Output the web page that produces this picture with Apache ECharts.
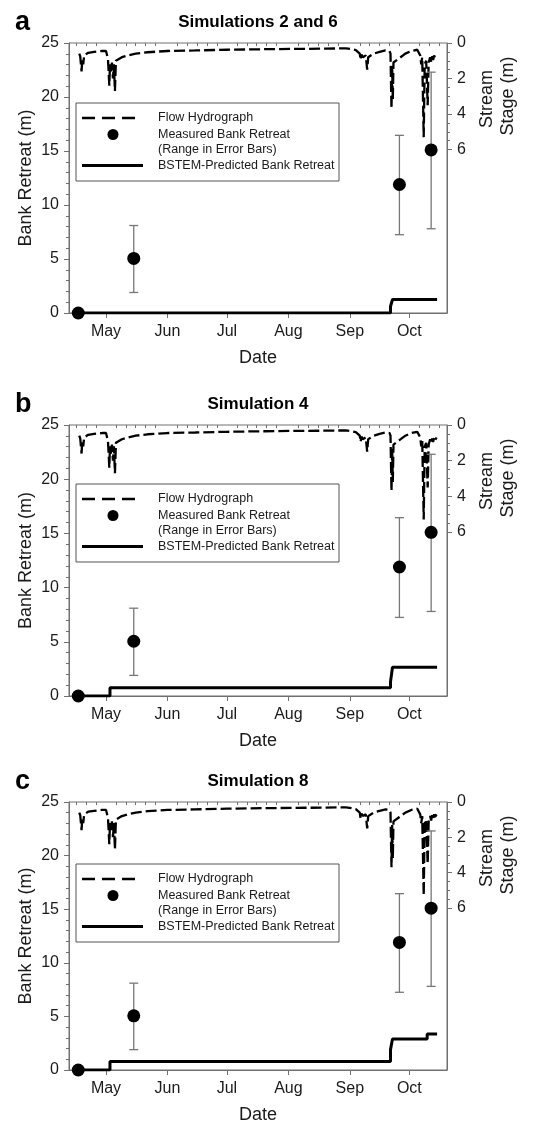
<!DOCTYPE html>
<html>
<head>
<meta charset="utf-8">
<script src="https://cdn.jsdelivr.net/npm/echarts@6/dist/echarts.min.js"></script>
<style>html,body{margin:0;padding:0;background:#fff;}#c{width:538px;height:1123px;}</style>
</head>
<body>
<div id="c"></div>
<script>
// ---------- data ----------
const panelLetters = ['a', 'b', 'c'];
const panelTitles = ['Simulations 2 and 6', 'Simulation 4', 'Simulation 8'];
const monthLabels = ['May', 'Jun', 'Jul', 'Aug', 'Sep', 'Oct'];
const monthStarts = ['05-01', '06-01', '07-01', '08-01', '09-01', '10-01'];
const leftTicks = [0, 5, 10, 15, 20, 25];
const stageTickLabels = [0, 2, 4, 6];

// flow hydrograph: stream stage (m), same in all panels
const hydroDates = ['04-17 12','04-18','04-18 16','04-19','04-19 12','04-20','04-22','04-25','04-29','05-01',
  '05-02','05-02 16','05-03','05-03 12','05-04','05-04 12','05-05','05-05 12','05-06','05-07',
  '05-09','05-12','05-16','05-22','06-01','06-15','07-01','07-20','08-05','08-20','08-30',
  '09-02','09-04','09-05','09-06','09-06 10','09-06 20','09-07 12','09-08','09-09','09-09 18','09-10 06',
  '09-11','09-13','09-16','09-19','09-21','09-21 12','09-22','09-22 08','09-22 16','09-23','09-24',
  '09-26','09-29','10-02','10-05','10-06','10-06 12','10-07','10-07 12','10-08 06','10-08 18',
  '10-09 12','10-10 06','10-10 18','10-11 12','10-12','10-12 12','10-13','10-13 12','10-14','10-14 18'];
const hydroStage = [0.6,0.75,1.6,0.95,1.2,0.7,0.55,0.5,0.45,0.45,
  0.9,2.4,1.2,1.6,1.1,2.0,1.2,2.7,1.0,0.95,
  0.8,0.7,0.6,0.52,0.45,0.42,0.38,0.35,0.33,0.32,0.3,
  0.35,0.4,0.5,0.6,0.95,0.65,0.8,0.7,0.7,1.5,0.8,
  0.75,0.6,0.5,0.42,0.45,0.6,3.7,1.3,3.2,1.1,1.0,
  0.85,0.6,0.45,0.38,0.45,0.7,1.2,0.8,5.3,1.2,
  1.0,3.5,1.1,0.8,1.05,0.75,0.95,0.7,0.85,0.7];

// measured bank retreat with range
const measDates = ['04-17', '05-15', '09-26', '10-12'];
const measValue = [0, 5.05, 11.9, 15.1];
const measLow   = [0, 1.9, 7.25, 7.8];
const measHigh  = [0, 8.1, 16.45, 22.3];

// BSTEM-predicted bank retreat (step changes)
const predDatesA = ['04-17', '09-21 12', '09-22 12', '10-15'];
const predValsA  = [0, 0.6, 1.25, 1.25];
const predDatesB = ['04-17', '05-03', '09-21 12', '09-22 12', '10-15'];
const predValsB  = [0, 0.75, 1.3, 2.65, 2.65];
const predDatesC = ['04-17', '05-03', '09-21 12', '09-22 12', '10-10', '10-15'];
const predValsC  = [0, 0.8, 1.9, 2.9, 3.35, 3.35];

// ---------- helpers ----------
function doy(s) {
  const [md, hh] = s.split(' ');
  const [m, d] = md.split('-').map(Number);
  return (Date.UTC(2009, m - 1, d, hh ? Number(hh) : 0) - Date.UTC(2009, 0, 0)) / 864e5;
}
const xMin = doy('04-12 08');
const xMax = doy('10-20');
const monthVals = monthStarts.map(doy);
const minorX = [];
['04','05','06','07','08','09','10'].forEach(m => {
  [6, 11, 16, 21, 26].forEach(d => {
    const v = doy(m + '-' + String(d).padStart(2, '0'));
    if (v > xMin && v < xMax) minorX.push(v);
  });
});
const minorStage = [];
for (let v = 0.5; v < 6; v += 0.5) if (v % 2 !== 0) minorStage.push(v);

const FONT = '"Liberation Sans", Arial, sans-serif';
const AX = '#707070';
const TXT = '#1a1a1a';

const gridTops = [43, 425, 802];
const gridHeights = [270, 271, 268];
const legendTops = [103, 484, 864];
const GL = 69, GR = 447;
const predDates = [predDatesA, predDatesB, predDatesC];
const predVals = [predValsA, predValsB, predValsC];

const grid = [], xAxis = [], yAxis = [], series = [], graphic = [];

for (let i = 0; i < 3; i++) {
  const top = gridTops[i], h = gridHeights[i];
  grid.push({left: GL, width: GR - GL, top: top, height: h, show: true,
    borderColor: AX, borderWidth: 1, backgroundColor: 'transparent'});
  // major x axis
  xAxis.push({type: 'value', gridIndex: i, min: xMin, max: xMax, position: 'bottom',
    axisLine: {show: true, lineStyle: {color: AX, width: 1}},
    axisTick: {show: true, inside: false, length: 5, customValues: monthVals, lineStyle: {color: AX}},
    axisLabel: {show: true, customValues: monthVals, margin: 11, fontSize: 16, fontFamily: FONT, color: TXT,
      formatter: v => { const k = monthVals.findIndex(m => Math.abs(m - v) < 0.01); return k >= 0 ? monthLabels[k] : ''; }},
    splitLine: {show: false}});
  // minor x ticks
  xAxis.push({type: 'value', gridIndex: i, min: xMin, max: xMax, position: 'bottom',
    axisLine: {show: false},
    axisTick: {show: true, inside: false, length: 3, customValues: minorX, lineStyle: {color: AX}},
    axisLabel: {show: false}, splitLine: {show: false}});
  // left axis
  yAxis.push({type: 'value', gridIndex: i, min: 0, max: 25, interval: 5, position: 'left',
    axisLine: {show: true, lineStyle: {color: AX}},
    axisTick: {show: true, inside: false, length: 5, lineStyle: {color: AX}},
    minorTick: {show: true, splitNumber: 5, length: 3, lineStyle: {color: AX}},
    axisLabel: {margin: 10, fontSize: 16, fontFamily: FONT, color: TXT},
    splitLine: {show: false}});
  // right axis (stream stage, inverted)
  yAxis.push({type: 'value', gridIndex: i, min: 0, max: 15.2, inverse: true, position: 'right',
    axisLine: {show: true, lineStyle: {color: AX}},
    axisTick: {show: true, inside: false, length: 5, customValues: stageTickLabels, lineStyle: {color: AX}},
    axisLabel: {show: true, customValues: stageTickLabels, margin: 10, fontSize: 16, fontFamily: FONT, color: TXT},
    splitLine: {show: false}});
  yAxis.push({type: 'value', gridIndex: i, min: 0, max: 15.2, inverse: true, position: 'right',
    axisLine: {show: false},
    axisTick: {show: true, inside: false, length: 3, customValues: minorStage, lineStyle: {color: AX}},
    axisLabel: {show: false}, splitLine: {show: false}});

  // hydrograph
  series.push({type: 'line', xAxisIndex: 2 * i, yAxisIndex: 3 * i + 1,
    data: hydroDates.map((d, k) => [doy(d), hydroStage[k]]),
    showSymbol: false, symbol: 'none', z: 3,
    lineStyle: {color: '#000', width: 2.3, type: [11, 4]}});
  // predicted
  series.push({type: 'line', xAxisIndex: 2 * i, yAxisIndex: 3 * i, step: 'end',
    data: predDates[i].map((d, k) => [doy(d), predVals[i][k]]),
    showSymbol: false, symbol: 'none', z: 4,
    lineStyle: {color: '#000', width: 3}});
  // error bars
  series.push({type: 'custom', xAxisIndex: 2 * i, yAxisIndex: 3 * i, z: 5,
    data: measDates.map((d, k) => [doy(d), measLow[k], measHigh[k]]),
    encode: {x: 0, y: [1, 2]},
    renderItem: (params, api) => {
      const x = api.value(0), lo = api.value(1), hi = api.value(2);
      if (hi - lo <= 0) return null;
      const p1 = api.coord([x, lo]), p2 = api.coord([x, hi]);
      const cw = 4.5, st = {stroke: '#777', lineWidth: 1.3};
      return {type: 'group', children: [
        {type: 'line', shape: {x1: p1[0], y1: p1[1], x2: p2[0], y2: p2[1]}, style: st},
        {type: 'line', shape: {x1: p1[0] - cw, y1: p1[1], x2: p1[0] + cw, y2: p1[1]}, style: st},
        {type: 'line', shape: {x1: p2[0] - cw, y1: p2[1], x2: p2[0] + cw, y2: p2[1]}, style: st}
      ]};
    }});
  // measured
  series.push({type: 'scatter', xAxisIndex: 2 * i, yAxisIndex: 3 * i, z: 6,
    data: measDates.map((d, k) => [doy(d), measValue[k]]),
    symbol: 'circle', symbolSize: 13, itemStyle: {color: '#000', opacity: 1}});

  // texts
  graphic.push({type: 'text', x: 15, y: top - 20, style: {text: panelLetters[i], font: 'bold 27px ' + FONT, fill: '#000', textVerticalAlign: 'middle'}});
  graphic.push({type: 'text', x: (GL + GR) / 2, y: top - 21, style: {text: panelTitles[i], font: 'bold 17px ' + FONT, fill: '#000', textAlign: 'center', textVerticalAlign: 'middle'}});
  graphic.push({type: 'text', x: (GL + GR) / 2, y: top + h + 45, style: {text: 'Date', font: '18px ' + FONT, fill: TXT, textAlign: 'center', textVerticalAlign: 'middle'}});
  graphic.push({type: 'text', x: 26, y: top + h / 2, rotation: Math.PI / 2, style: {text: 'Bank Retreat (m)', font: '18px ' + FONT, fill: TXT, textAlign: 'center', textVerticalAlign: 'middle'}});
  graphic.push({type: 'text', x: 487, y: top + 56, rotation: Math.PI / 2, style: {text: 'Stream', font: '18px ' + FONT, fill: TXT, textAlign: 'center', textVerticalAlign: 'middle'}});
  graphic.push({type: 'text', x: 508, y: top + 53, rotation: Math.PI / 2, style: {text: 'Stage (m)', font: '18px ' + FONT, fill: TXT, textAlign: 'center', textVerticalAlign: 'middle'}});

  // legend box
  const T = legendTops[i];
  graphic.push({type: 'rect', shape: {x: 76, y: T, width: 263, height: 78}, style: {fill: '#fff', stroke: '#555', lineWidth: 1}, z: 10});
  graphic.push({type: 'line', shape: {x1: 82, y1: T + 15, x2: 137, y2: T + 15}, style: {stroke: '#000', lineWidth: 2.5, lineDash: [13, 7]}, z: 11});
  graphic.push({type: 'circle', shape: {cx: 113, cy: T + 31.5, r: 5.5}, style: {fill: '#000'}, z: 11});
  graphic.push({type: 'line', shape: {x1: 82, y1: T + 62.5, x2: 143, y2: T + 62.5}, style: {stroke: '#000', lineWidth: 3}, z: 11});
  const lt = ['Flow Hydrograph', 'Measured Bank Retreat', '(Range in Error Bars)', 'BSTEM-Predicted Bank Retreat'];
  const ly = [15, 31.5, 47, 62.5];
  lt.forEach((t, k) => graphic.push({type: 'text', x: 158, y: T + ly[k], z: 11,
    style: {text: t, font: '12.5px ' + FONT, fill: TXT, textVerticalAlign: 'middle'}}));
}

const chart = echarts.init(document.getElementById('c'), null, {renderer: 'canvas'});
chart.setOption({animation: false, backgroundColor: '#fff', grid, xAxis, yAxis, series, graphic});
</script>
</body>
</html>
